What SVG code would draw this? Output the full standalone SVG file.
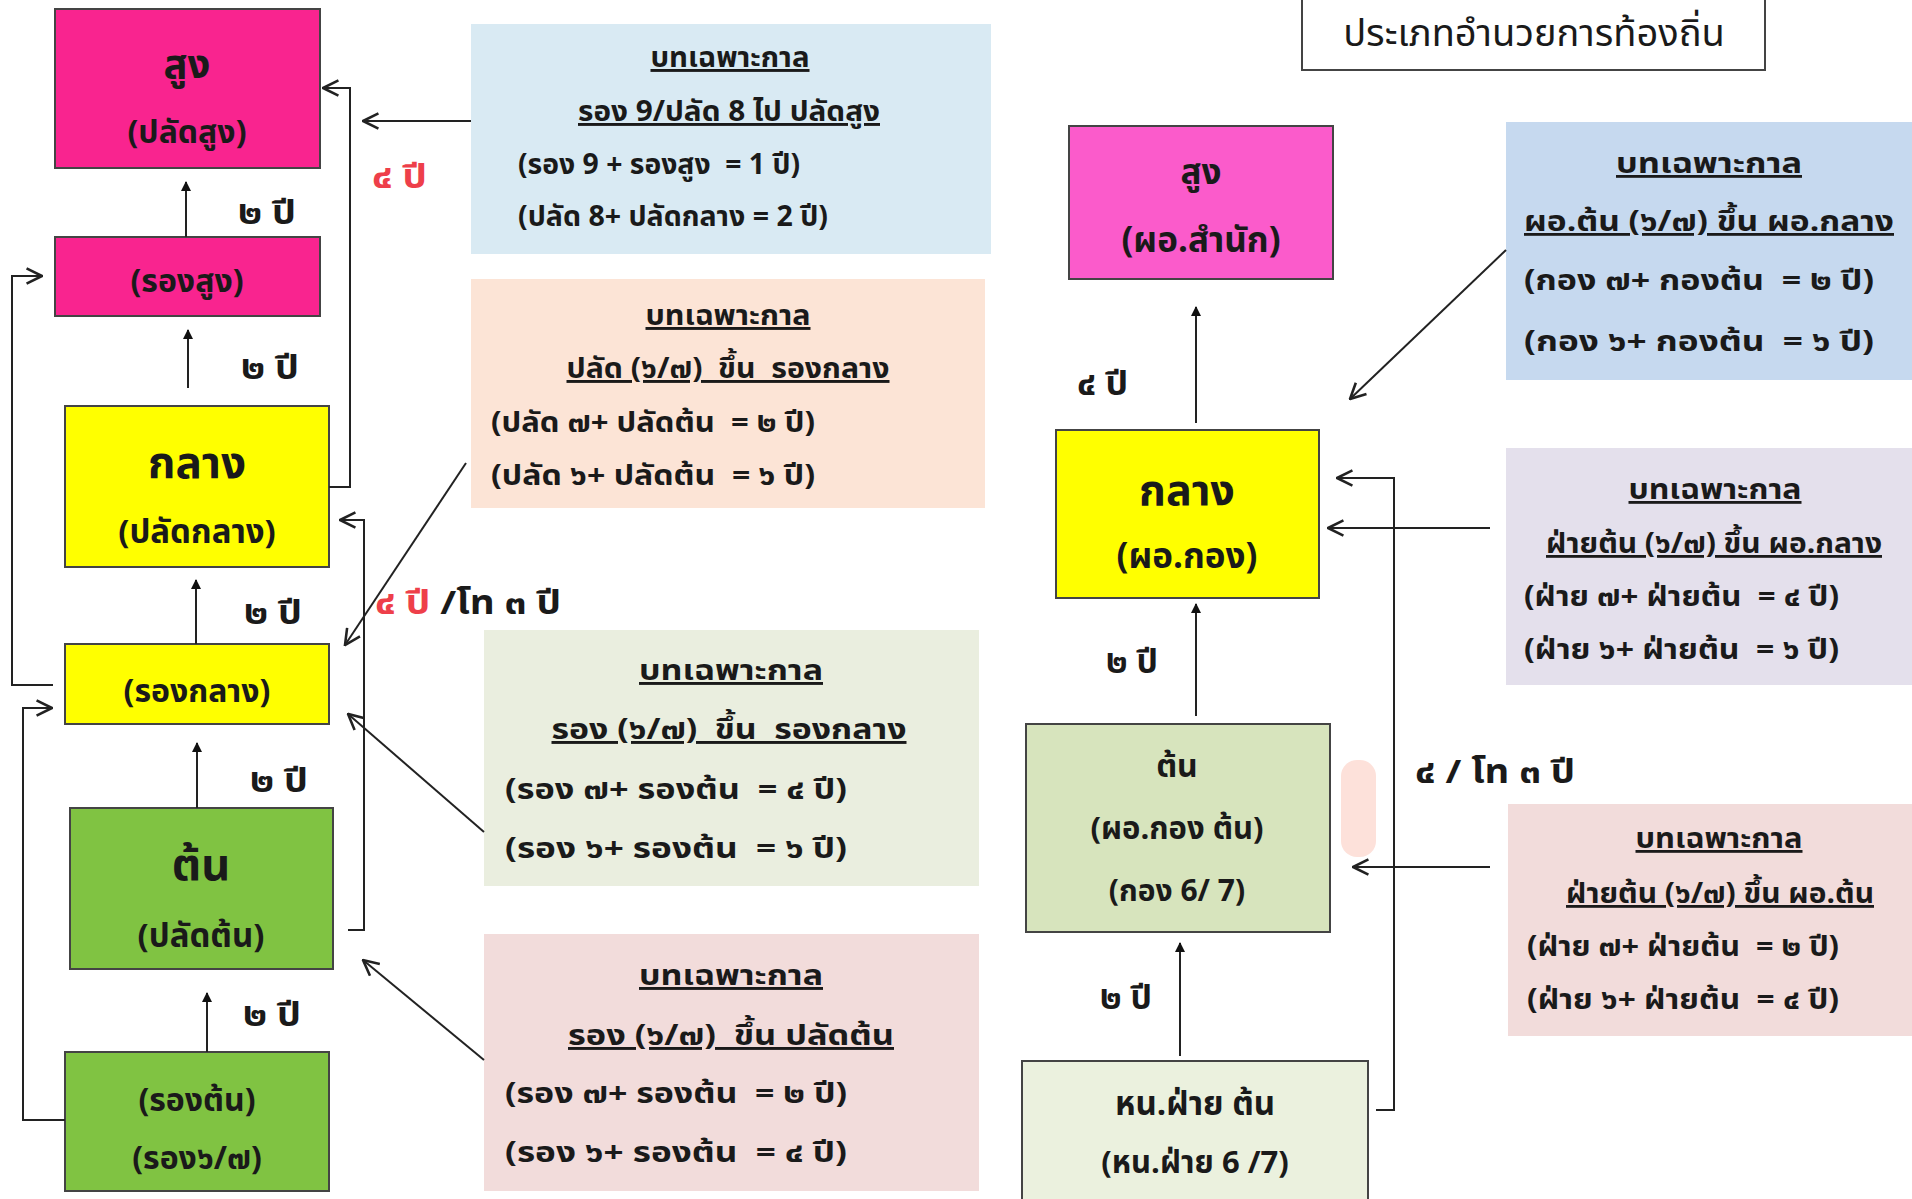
<svg xmlns="http://www.w3.org/2000/svg" width="1912" height="1199" viewBox="0 0 1912 1199" xml:space="preserve">
<defs>
<marker id="fh" viewBox="0 0 10 10" refX="9" refY="5" markerWidth="10" markerHeight="10" markerUnits="userSpaceOnUse" orient="auto"><path d="M0,0 L10,5 L0,10 z" fill="#111"/></marker>
<marker id="oh" viewBox="0 0 14 14" refX="13" refY="7" markerWidth="18" markerHeight="18" markerUnits="userSpaceOnUse" orient="auto"><path d="M1,1 L13,7 L1,13" fill="none" stroke="#222" stroke-width="2"/></marker>
</defs>
<style>
text{font-family:"Noto Sans Thai","Noto Sans","DejaVu Sans",sans-serif;fill:#1a1a1a;font-weight:bold;white-space:pre}
.node{stroke:#444;stroke-width:2}
.big{font-size:40px;text-anchor:middle}
.med{font-size:32px;text-anchor:middle}
.bx{stroke:none}
.h{font-size:29px;text-anchor:middle;text-decoration:underline}
.l{font-size:29px}
.hs{font-size:28px;text-anchor:middle;text-decoration:underline}
.ls{font-size:28px}
.lab{font-size:33px}
.red{fill:#ee3f4a}
.c{stroke:#222;stroke-width:2;fill:none}
</style>
<rect width="1912" height="1199" fill="#fff"/>

<g id="title">
<rect x="1302" y="-4" width="463" height="74" fill="#fff" stroke="#444" stroke-width="2"/>
<text x="1534" y="46" style="font-size:38px;font-weight:normal;text-anchor:middle">ประเภทอำนวยการท้องถิ่น</text>
</g>

<g id="L-sung">
<rect class="node" x="55" y="9" width="265" height="159" fill="#f9248f"/>
<text class="big" x="187" y="78">สูง</text>
<text class="med" x="187" y="143">(ปลัดสูง)</text>
</g>
<g id="L-rongsung">
<rect class="node" x="55" y="237" width="265" height="79" fill="#f9248f"/>
<text class="med" x="187" y="292">(รองสูง)</text>
</g>
<g id="L-klang">
<rect class="node" x="65" y="406" width="264" height="161" fill="#ffff00"/>
<text class="big" x="197" y="478" style="font-size:44px">กลาง</text>
<text class="med" x="197" y="543" style="font-size:33px">(ปลัดกลาง)</text>
</g>
<g id="L-rongklang">
<rect class="node" x="65" y="644" width="264" height="80" fill="#ffff00"/>
<text class="med" x="197" y="702">(รองกลาง)</text>
</g>
<g id="L-ton">
<rect class="node" x="70" y="808" width="263" height="161" fill="#80c342"/>
<text class="big" x="201" y="880" style="font-size:45px">ต้น</text>
<text class="med" x="201" y="947" style="font-size:33px">(ปลัดต้น)</text>
</g>
<g id="L-rongton">
<rect class="node" x="65" y="1052" width="264" height="139" fill="#80c342"/>
<text class="med" x="197" y="1111">(รองต้น)</text>
<text class="med" x="197" y="1169">(รอง๖/๗)</text>
</g>

<g id="C-blue">
<rect class="bx" x="471" y="24" width="520" height="230" fill="#d9eaf3"/>
<text class="h" x="730" y="67" textLength="159" lengthAdjust="spacingAndGlyphs">บทเฉพาะกาล</text>
<text class="h" x="729" y="121" textLength="302" lengthAdjust="spacingAndGlyphs">รอง 9/ปลัด 8 ไป ปลัดสูง</text>
<text class="l" x="518" y="174" textLength="282" lengthAdjust="spacingAndGlyphs">(รอง 9 + รองสูง  = 1 ปี)</text>
<text class="l" x="518" y="226" textLength="310" lengthAdjust="spacingAndGlyphs">(ปลัด 8+ ปลัดกลาง = 2 ปี)</text>
</g>
<g id="C-peach">
<rect class="bx" x="471" y="279" width="514" height="229" fill="#fce4d6"/>
<text class="h" x="728" y="325" textLength="165" lengthAdjust="spacingAndGlyphs">บทเฉพาะกาล</text>
<text class="h" x="728" y="378" textLength="323" lengthAdjust="spacingAndGlyphs">ปลัด (๖/๗)  ขึ้น  รองกลาง</text>
<text class="l" x="491" y="432" textLength="324" lengthAdjust="spacingAndGlyphs">(ปลัด ๗+ ปลัดต้น  = ๒ ปี)</text>
<text class="l" x="491" y="485" textLength="324" lengthAdjust="spacingAndGlyphs">(ปลัด ๖+ ปลัดต้น  = ๖ ปี)</text>
</g>
<g id="C-green">
<rect class="bx" x="484" y="630" width="495" height="256" fill="#eaeedf"/>
<text class="h" x="731" y="680" textLength="184" lengthAdjust="spacingAndGlyphs">บทเฉพาะกาล</text>
<text class="h" x="729" y="739" textLength="355" lengthAdjust="spacingAndGlyphs">รอง (๖/๗)  ขึ้น  รองกลาง</text>
<text class="l" x="505" y="799" textLength="342" lengthAdjust="spacingAndGlyphs">(รอง ๗+ รองต้น  = ๔ ปี)</text>
<text class="l" x="505" y="858" textLength="342" lengthAdjust="spacingAndGlyphs">(รอง ๖+ รองต้น  = ๖ ปี)</text>
</g>
<g id="C-pink">
<rect class="bx" x="484" y="934" width="495" height="257" fill="#f2dcdb"/>
<text class="h" x="731" y="985" textLength="184" lengthAdjust="spacingAndGlyphs">บทเฉพาะกาล</text>
<text class="h" x="731" y="1045" textLength="326" lengthAdjust="spacingAndGlyphs">รอง (๖/๗)  ขึ้น ปลัดต้น</text>
<text class="l" x="505" y="1103" textLength="342" lengthAdjust="spacingAndGlyphs">(รอง ๗+ รองต้น  = ๒ ปี)</text>
<text class="l" x="505" y="1162" textLength="342" lengthAdjust="spacingAndGlyphs">(รอง ๖+ รองต้น  = ๔ ปี)</text>
</g>

<g id="R-sung">
<rect class="node" x="1069" y="126" width="264" height="153" fill="#fb5bcb"/>
<text class="med" x="1201" y="184" style="font-size:35px">สูง</text>
<text class="med" x="1201" y="252" style="font-size:35px">(ผอ.สำนัก)</text>
</g>
<g id="R-klang">
<rect class="node" x="1056" y="430" width="263" height="168" fill="#ffff00"/>
<text class="big" x="1187" y="505" style="font-size:43px">กลาง</text>
<text class="med" x="1187" y="568" style="font-size:35px">(ผอ.กอง)</text>
</g>
<g id="R-ton">
<rect class="node" x="1026" y="724" width="304" height="208" fill="#d7e4bd"/>
<text class="med" x="1177" y="777">ต้น</text>
<text class="med" x="1177" y="839" style="font-size:31px">(ผอ.กอง ต้น)</text>
<text class="med" x="1177" y="901" style="font-size:30px">(กอง 6/ 7)</text>
</g>
<g id="R-hn">
<rect class="node" x="1022" y="1061" width="346" height="145" fill="#ebf1de"/>
<text class="med" x="1195" y="1115" style="font-size:33px">หน.ฝ่าย ต้น</text>
<text class="med" x="1195" y="1173" style="font-size:31px">(หน.ฝ่าย 6 /7)</text>
</g>

<g id="R-blue">
<rect class="bx" x="1506" y="122" width="406" height="258" fill="#c6d9ef"/>
<text class="hs" x="1709" y="173" textLength="186" lengthAdjust="spacingAndGlyphs">บทเฉพาะกาล</text>
<text class="hs" x="1709" y="231" textLength="370" lengthAdjust="spacingAndGlyphs">ผอ.ต้น (๖/๗) ขึ้น ผอ.กลาง</text>
<text class="ls" x="1524" y="290" textLength="350" lengthAdjust="spacingAndGlyphs">(กอง ๗+ กองต้น  = ๒ ปี)</text>
<text class="ls" x="1524" y="351" textLength="350" lengthAdjust="spacingAndGlyphs">(กอง ๖+ กองต้น  = ๖ ปี)</text>
</g>
<g id="R-lav">
<rect class="bx" x="1506" y="448" width="406" height="237" fill="#e4e0ec"/>
<text class="hs" x="1715" y="499" textLength="173" lengthAdjust="spacingAndGlyphs">บทเฉพาะกาล</text>
<text class="hs" x="1714" y="553" textLength="336" lengthAdjust="spacingAndGlyphs">ฝ่ายต้น (๖/๗) ขึ้น ผอ.กลาง</text>
<text class="ls" x="1524" y="606" textLength="315" lengthAdjust="spacingAndGlyphs">(ฝ่าย ๗+ ฝ่ายต้น  = ๔ ปี)</text>
<text class="ls" x="1524" y="659" textLength="315" lengthAdjust="spacingAndGlyphs">(ฝ่าย ๖+ ฝ่ายต้น  = ๖ ปี)</text>
</g>
<g id="R-pink">
<rect class="bx" x="1508" y="804" width="404" height="232" fill="#f2dcdb"/>
<text class="hs" x="1719" y="848" textLength="167" lengthAdjust="spacingAndGlyphs">บทเฉพาะกาล</text>
<text class="hs" x="1720" y="903" textLength="308" lengthAdjust="spacingAndGlyphs">ฝ่ายต้น (๖/๗) ขึ้น ผอ.ต้น</text>
<text class="ls" x="1527" y="956" textLength="312" lengthAdjust="spacingAndGlyphs">(ฝ่าย ๗+ ฝ่ายต้น  = ๒ ปี)</text>
<text class="ls" x="1527" y="1009" textLength="312" lengthAdjust="spacingAndGlyphs">(ฝ่าย ๖+ ฝ่ายต้น  = ๔ ปี)</text>
</g>

<rect x="1341" y="760" width="35" height="97" rx="16" fill="#fcd9d1" opacity="0.8"/>

<g id="connectors">
<line class="c" x1="186" y1="237" x2="186" y2="182" marker-end="url(#fh)"/>
<line class="c" x1="188" y1="388" x2="188" y2="330" marker-end="url(#fh)"/>
<line class="c" x1="196" y1="644" x2="196" y2="580" marker-end="url(#fh)"/>
<line class="c" x1="197" y1="808" x2="197" y2="743" marker-end="url(#fh)"/>
<line class="c" x1="207" y1="1052" x2="207" y2="993" marker-end="url(#fh)"/>
<polyline class="c" points="329,487 350,487 350,88 323,88" marker-end="url(#oh)"/>
<polyline class="c" points="53,685 12,685 12,276 42,276" marker-end="url(#oh)"/>
<polyline class="c" points="65,1120 23,1120 23,708 52,708" marker-end="url(#oh)"/>
<polyline class="c" points="348,930 364,930 364,520 340,520" marker-end="url(#oh)"/>
<line class="c" x1="471" y1="121" x2="363" y2="121" marker-end="url(#oh)"/>
<line class="c" x1="466" y1="463" x2="345" y2="645" marker-end="url(#oh)"/>
<line class="c" x1="484" y1="832" x2="348" y2="714" marker-end="url(#oh)"/>
<line class="c" x1="484" y1="1060" x2="363" y2="960" marker-end="url(#oh)"/>
<line class="c" x1="1196" y1="423" x2="1196" y2="307" marker-end="url(#fh)"/>
<line class="c" x1="1196" y1="716" x2="1196" y2="604" marker-end="url(#fh)"/>
<line class="c" x1="1180" y1="1056" x2="1180" y2="943" marker-end="url(#fh)"/>
<line class="c" x1="1506" y1="250" x2="1350" y2="399" marker-end="url(#oh)"/>
<line class="c" x1="1490" y1="528" x2="1328" y2="528" marker-end="url(#oh)"/>
<polyline class="c" points="1376,1110 1394,1110 1394,478 1337,478" marker-end="url(#oh)"/>
<line class="c" x1="1490" y1="867" x2="1353" y2="867" marker-end="url(#oh)"/>
</g>

<g id="labels">
<text class="lab" x="238" y="224" textLength="58" lengthAdjust="spacingAndGlyphs">๒ ปี</text>
<text class="lab" x="241" y="379" textLength="58" lengthAdjust="spacingAndGlyphs">๒ ปี</text>
<text class="lab" x="244" y="624" textLength="58" lengthAdjust="spacingAndGlyphs">๒ ปี</text>
<text class="lab" x="250" y="792" textLength="58" lengthAdjust="spacingAndGlyphs">๒ ปี</text>
<text class="lab" x="243" y="1026" textLength="58" lengthAdjust="spacingAndGlyphs">๒ ปี</text>
<text class="lab red" x="372" y="188" textLength="55" lengthAdjust="spacingAndGlyphs">๔ ปี</text>
<text class="lab" x="375" y="614" textLength="186" lengthAdjust="spacingAndGlyphs"><tspan class="red">๔ ปี</tspan> /โท ๓ ปี</text>
<text class="lab" x="1077" y="395" textLength="51" lengthAdjust="spacingAndGlyphs">๔ ปี</text>
<text class="lab" x="1106" y="673" textLength="52" lengthAdjust="spacingAndGlyphs">๒ ปี</text>
<text class="lab" x="1100" y="1009" textLength="52" lengthAdjust="spacingAndGlyphs">๒ ปี</text>
<text class="lab" x="1415" y="783" textLength="160" lengthAdjust="spacingAndGlyphs">๔ / โท ๓ ปี</text>
</g>
</svg>
